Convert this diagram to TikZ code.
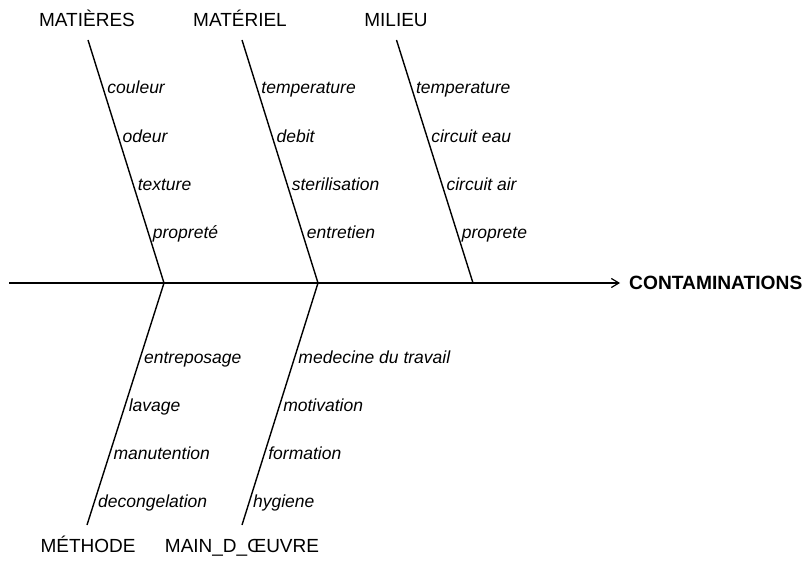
\documentclass[tikz,border=0pt]{standalone}
\usepackage{fontspec}
\setmainfont{Liberation Sans}
\usetikzlibrary{arrows.meta,calc}
\begin{document}
\begin{tikzpicture}[x=1pt,y=-1pt,
  bone/.style={line width=1.4pt,black},
  title/.style={font=\fontsize{19}{21}\selectfont,inner sep=0pt,anchor=base},
  cause/.style={font=\fontsize{17.5}{20}\selectfont\itshape,inner sep=0pt,anchor=base west},
  up/.style={cause,xshift=2.5pt},
  low/.style={cause,xshift=5.5pt}]
\useasboundingbox (0,0) rectangle (806,561);
% spine
\coordinate (tail) at (9,283);
\node[font=\fontsize{19.2}{21}\selectfont\bfseries,inner sep=0pt,anchor=base west] (effect) at (629,290) {CONTAMINATIONS};
\coordinate (tip) at (620,283);
\draw[bone,-{Straight Barb[length=7.5pt,width=9pt,line width=1.2pt]}] (tail) -- (tip);
% spine junctions
\coordinate (j1) at (164,283);
\coordinate (j2) at (318,283);
\coordinate (j3) at (473,283);
% titles
\node[title] (matieres) at (87,27) {MATIÈRES};
\node[title] (materiel) at (240,27) {MATÉRIEL};
\node[title] (milieu) at (396,27) {MILIEU};
\node[title] (methode) at (88,552) {MÉTHODE};
\node[title] (main) at (242,552) {MAIN\_D\_ŒUVRE};
% bone ends
\coordinate (t1) at (88,40);
\coordinate (t2) at (242,40);
\coordinate (t3) at (396.5,40);
\coordinate (b1) at (87,525);
\coordinate (b2) at (242,525);
% bones
\draw[bone] (t1) -- (j1);
\draw[bone] (t2) -- (j2);
\draw[bone] (t3) -- (j3);
\draw[bone] (j1) -- (b1);
\draw[bone] (j2) -- (b2);
% causes
\path (t1) -- (j1)
  node[up,pos=0.2202] (a1) {couleur}
  node[up,pos=0.4198] (a2) {odeur}
  node[up,pos=0.6193] (a3) {texture}
  node[up,pos=0.8189] (a4) {propreté};
\path (t2) -- (j2)
  node[up,pos=0.2202] (e1) {temperature}
  node[up,pos=0.4198] (e2) {debit}
  node[up,pos=0.6193] (e3) {sterilisation}
  node[up,pos=0.8189] (e4) {entretien};
\path (t3) -- (j3)
  node[up,pos=0.2202] (i1) {temperature}
  node[up,pos=0.4198] (i2) {circuit eau}
  node[up,pos=0.6193] (i3) {circuit air}
  node[up,pos=0.8189] (i4) {proprete};
\path (j1) -- (b1)
  node[low,pos=0.3318] (o1) {entreposage}
  node[low,pos=0.5318] (o2) {lavage}
  node[low,pos=0.7285] (o3) {manutention}
  node[low,pos=0.9285] (o4) {decongelation};
\path (j2) -- (b2)
  node[low,pos=0.3318] (w1) {medecine du travail}
  node[low,pos=0.5318] (w2) {motivation}
  node[low,pos=0.7285] (w3) {formation}
  node[low,pos=0.9285] (w4) {hygiene};
\end{tikzpicture}
\end{document}
